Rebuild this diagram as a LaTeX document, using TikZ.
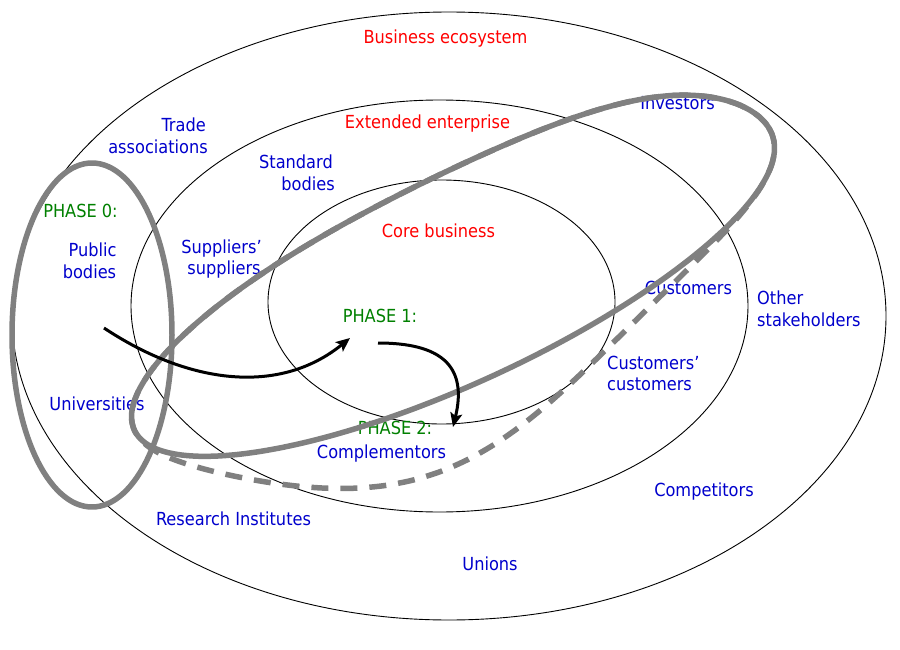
\documentclass[tikz,border=0pt]{standalone}
\usepackage{fontspec}
\setmainfont{DejaVu Sans Condensed}
\usetikzlibrary{arrows.meta}
\definecolor{tblue}{RGB}{0,0,204}
\definecolor{tred}{RGB}{255,0,0}
\definecolor{tgreen}{RGB}{0,128,0}
\definecolor{lgray}{RGB}{128,128,128}
\begin{document}
\begin{tikzpicture}[x=1pt,y=-1pt,font=\fontsize{18}{22}\selectfont,
  lbl/.style={inner sep=0pt,anchor=base,text=tblue},
  hdr/.style={lbl,text=tred},
  ph/.style={lbl,text=tgreen},
  ring/.style={draw=black,line width=0.9pt},
  gline/.style={draw=lgray,line width=5.5pt,line join=round},
  gdash/.style={gline,dash pattern=on 17pt off 12pt},
  arr/.style={draw=black,line width=3pt,-{Stealth[length=14pt,width=12pt,inset=3pt]}}]
\useasboundingbox (0,0) rectangle (900,650);
% rings
\draw[ring] (449,316) ellipse [x radius=437pt,y radius=304pt];
\draw[ring] (439.5,306) ellipse [x radius=308.5pt,y radius=206pt];
\draw[ring] (441.5,302) ellipse [x radius=173.5pt,y radius=122pt];
% labels
\node[hdr] (bizeco) at (445.5,44) {Business ecosystem};
\node[lbl,anchor=base east] (trade1) at (206,132) {Trade};
\node[lbl,anchor=base east] (trade2) at (208,154) {associations};
\node[hdr] (ext) at (427.5,129) {Extended enterprise};
\node[lbl] (inv) at (677.5,110) {Investors};
\node[lbl,anchor=base east] (std1) at (333,169) {Standard};
\node[lbl,anchor=base east] (std2) at (335,190) {bodies};
\node[ph] (ph0) at (80.5,217) {PHASE 0:};
\node[lbl] (pub1) at (92.5,256) {Public};
\node[lbl] (pub2) at (89.5,278) {bodies};
\node[lbl] (sup1) at (221.5,253) {Suppliers’};
\node[lbl] (sup2) at (224,274) {suppliers};
\node[hdr] (core) at (438.5,237) {Core business};
\node[lbl] (cust) at (688.5,294) {Customers};
\node[lbl,anchor=base west] (oth1) at (757,304) {Other};
\node[lbl,anchor=base west] (oth2) at (757,326) {stakeholders};
\node[ph] (ph1) at (380,322) {PHASE 1:};
\node[lbl,anchor=base west] (cc1) at (607,369) {Customers’};
\node[lbl,anchor=base west] (cc2) at (607,390) {customers};
\node[lbl] (univ) at (97,410) {Universities};
\node[ph] (ph2) at (395,434) {PHASE 2:};
\node[lbl] (compl) at (381.5,458) {Complementors};
\node[lbl] (comp) at (704,496) {Competitors};
\node[lbl] (res) at (233.5,525) {Research Institutes};
\node[lbl] (unions) at (490,570) {Unions};
% phase 0 ellipse
\draw[gline] (92,335) ellipse [x radius=80pt,y radius=172pt];
% phase 1 (solid) outline: tilted ellipse with a slight bulge at the top
\draw[gline] plot[smooth cycle,domain=0:355,samples=72,variable=\t]
  ({453+318.7*cos(\t)-42.3*sin(\t)},
   {283-147.1*cos(\t)-91.7*sin(\t)-16*((1.001+cos(\t-45))/2)^12});
% phase 2 (dashed) outline: same top, lower side bulging outwards
\draw[gdash] plot[smooth cycle,domain=0:355,samples=72,variable=\t]
  ({453+318.7*cos(\t)-42.3*sin(\t)+0.419*68*((1.001+cos(\t-255))/2)^10},
   {283-147.1*cos(\t)-91.7*sin(\t)-16*((1.001+cos(\t-45))/2)^12+0.908*68*((1.001+cos(\t-255))/2)^10});
% arrows
\coordinate (a0) at (104,328);
\coordinate (a1) at (350,338);
\coordinate (b0) at (378,343);
\coordinate (b1) at (453,427);
\draw[arr] (a0) .. controls (190,385) and (280,395) .. (a1);
\draw[arr] (b0) .. controls (440,343) and (468,365) .. (b1);
\end{tikzpicture}
\end{document}
